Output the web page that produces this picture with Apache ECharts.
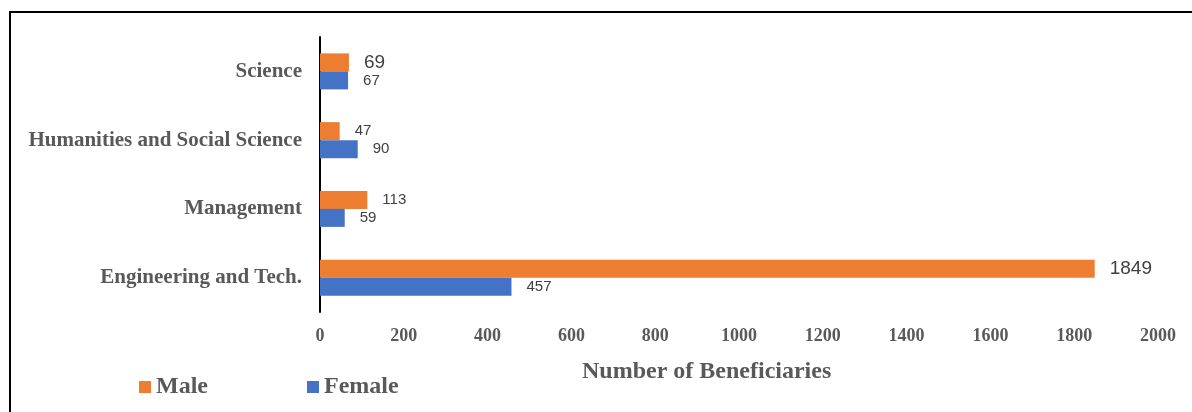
<!DOCTYPE html>
<html>
<head>
<meta charset="utf-8">
<script src="https://cdn.jsdelivr.net/npm/echarts@6/dist/echarts.min.js"></script>
<style>html,body{margin:0;padding:0;background:#fff}#c{width:1192px;height:412px}</style>
</head>
<body>
<div id="c"></div>
<script>
// Categories listed bottom-to-top (ECharts category y-axis order)
const categories = ['Engineering and Tech.', 'Management', 'Humanities and Social Science', 'Science'];
const maleValues = [1849, 113, 47, 69];
const femaleValues = [457, 59, 90, 67];
const xTicks = [0, 200, 400, 600, 800, 1000, 1200, 1400, 1600, 1800, 2000];
const seriesNames = ['Male', 'Female'];
const axisTitle = 'Number of Beneficiaries';

const serif = '"Liberation Serif", "Times New Roman", serif';
const sans = '"Liberation Sans", "Open Sans", sans-serif';
const bigLabelIdx = [0, 3]; // male labels drawn larger in the reference

const chart = echarts.init(document.getElementById('c'), null, {renderer: 'canvas'});
chart.setOption({
  animation: false,
  backgroundColor: '#ffffff',
  title: {
    text: axisTitle, left: 577, top: 355,
    textStyle: {fontFamily: serif, fontWeight: 'bold', fontSize: 24, color: '#595959'}
  },
  legend: {
    left: 134, top: 370, itemWidth: 12, itemHeight: 12, itemGap: 99,
    icon: 'rect',
    data: seriesNames,
    textStyle: {fontFamily: serif, fontWeight: 'bold', fontSize: 24, color: '#595959'}
  },
  grid: {left: 320, right: 34, top: 37, bottom: 100, containLabel: false},
  xAxis: {
    type: 'value', min: 0, max: 2000, interval: 200,
    axisLine: {show: false}, axisTick: {show: false}, splitLine: {show: false},
    axisLabel: {
      margin: 15, fontFamily: serif, fontWeight: 'bold', fontSize: 18, color: '#595959',
      formatter: v => xTicks.includes(v) ? String(v) : ''
    }
  },
  yAxis: {
    type: 'category', data: categories,
    axisLine: {show: true, lineStyle: {color: '#000', width: 2}},
    axisTick: {show: false},
    axisLabel: {margin: 18, padding: [4, 0, 0, 0], fontFamily: serif, fontWeight: 'bold', fontSize: 21, color: '#595959'}
  },
  series: [
    {
      name: seriesNames[0], type: 'bar', barWidth: 18, barGap: '0%',
      itemStyle: {color: '#ED7D31'},
      label: {show: true, position: 'right', distance: 15, fontFamily: sans, fontSize: 15, color: '#404040'},
      data: maleValues.map((v, i) => bigLabelIdx.includes(i)
        ? {value: v, label: {fontSize: 19}} : v)
    },
    {
      name: seriesNames[1], type: 'bar', barWidth: 18, barGap: '0%',
      itemStyle: {color: '#4472C4'},
      label: {show: true, position: 'right', distance: 15, fontFamily: sans, fontSize: 15, color: '#404040'},
      data: femaleValues
    }
  ],
  graphic: [
    {type: 'line', shape: {x1: 10, y1: 12, x2: 1192, y2: 12}, style: {stroke: '#000', lineWidth: 2}},
    {type: 'line', shape: {x1: 10, y1: 11, x2: 10, y2: 412}, style: {stroke: '#000', lineWidth: 2}}
  ]
});
</script>
</body>
</html>
